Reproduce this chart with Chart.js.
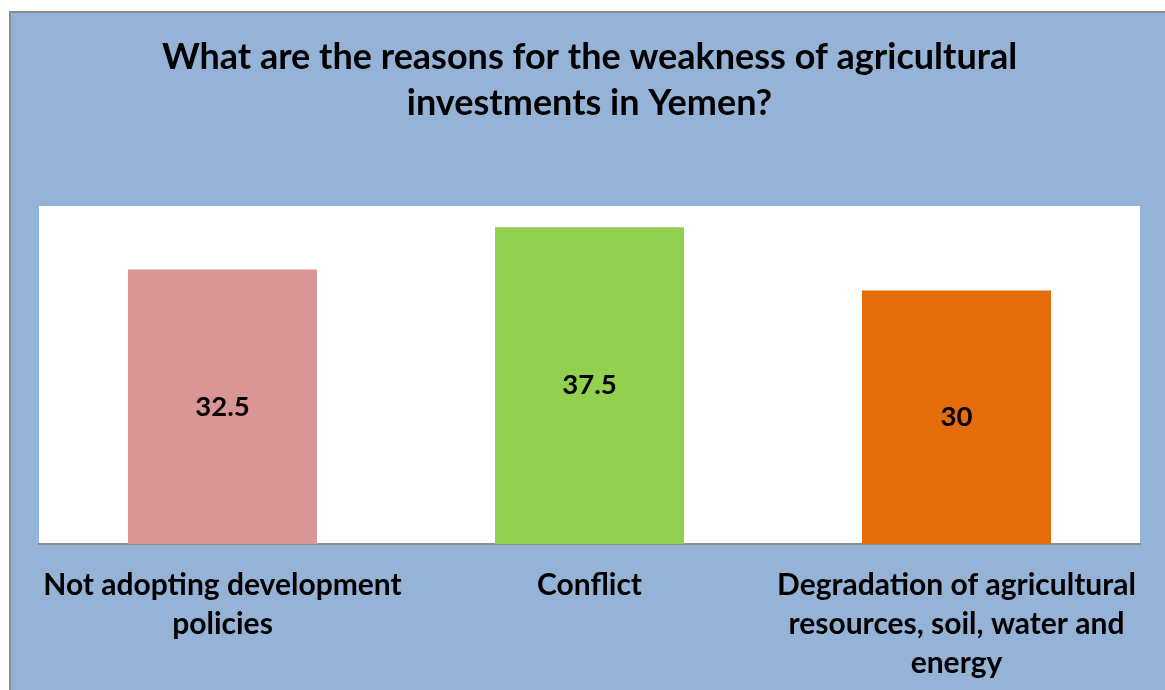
<!DOCTYPE html>
<html>
<head>
<meta charset="utf-8">
<script src="https://cdn.jsdelivr.net/npm/chart.js@4.4.0/dist/chart.umd.min.js"></script>
<style>
  html, body { margin: 0; padding: 0; background: #ffffff; }
  #wrap { position: relative; width: 1165px; height: 690px; }
</style>
</head>
<body>
<div id="wrap"><canvas id="c" width="1165" height="690"></canvas></div>
<script>
const titleLines = ["What are the reasons for the weakness of agricultural", "investments in Yemen?"];
const categories = [
  ["Not adopting development", "policies"],
  ["Conflict"],
  ["Degradation of agricultural", "resources, soil, water and", "energy"]
];
const values = [32.5, 37.5, 30];
const barColors = ["#D99694", "#92D050", "#E46C0A"];
const yMin = 0;
const yMax = 40;

const FONT = "Lato, 'Open Sans', sans-serif";

const backgroundPlugin = {
  id: 'bg',
  beforeDraw(chart) {
    const ctx = chart.ctx;
    const ca = chart.chartArea;
    ctx.save();
    ctx.fillStyle = '#ffffff';
    ctx.fillRect(0, 0, chart.width, chart.height);
    ctx.fillStyle = '#95B3D7';
    ctx.fillRect(9, 11, chart.width, chart.height);
    ctx.strokeStyle = '#8C8C8C';
    ctx.lineWidth = 2;
    ctx.beginPath();
    ctx.moveTo(10, chart.height + 2);
    ctx.lineTo(10, 12);
    ctx.lineTo(chart.width + 2, 12);
    ctx.stroke();
    ctx.fillStyle = '#ffffff';
    ctx.fillRect(ca.left, ca.top, ca.right - ca.left, ca.bottom - ca.top);
    ctx.restore();
  }
};

const valueLabelPlugin = {
  id: 'valueLabels',
  afterDatasetsDraw(chart) {
    const ctx = chart.ctx;
    const meta = chart.getDatasetMeta(0);
    ctx.save();
    ctx.font = "bold 27.5px " + FONT;
    ctx.fillStyle = '#000000';
    ctx.textAlign = 'center';
    ctx.textBaseline = 'middle';
    meta.data.forEach((bar, i) => {
      const yMid = (bar.y + bar.base) / 2;
      ctx.fillText(String(values[i]), bar.x, yMid);
    });
    ctx.restore();
  }
};

new Chart(document.getElementById('c'), {
  type: 'bar',
  data: {
    labels: categories,
    datasets: [{
      data: values,
      backgroundColor: barColors,
      borderWidth: 0,
      barPercentage: 0.515,
      categoryPercentage: 1.0
    }]
  },
  options: {
    responsive: false,
    animation: false,
    devicePixelRatio: 1,
    layout: { padding: { top: 11, left: 39, right: 25, bottom: 0 } },
    plugins: {
      legend: { display: false },
      tooltip: { enabled: false },
      title: {
        display: true,
        text: titleLines,
        color: '#000000',
        font: { family: FONT, size: 36, weight: 'bold', lineHeight: '46px' },
        padding: { top: 23, bottom: 80 }
      }
    },
    scales: {
      x: {
        grid: { display: false, drawTicks: false },
        border: { display: true, color: '#8C8C8C', width: 2 },
        ticks: {
          color: '#000000',
          font: { family: FONT, size: 30, weight: 'bold', lineHeight: '39px' },
          padding: 22,
          maxRotation: 0,
          autoSkip: false
        },
        afterFit(scale) { scale.height = 146; }
      },
      y: {
        display: false,
        min: yMin,
        max: yMax
      }
    }
  },
  plugins: [backgroundPlugin, valueLabelPlugin]
});
</script>
</body>
</html>
